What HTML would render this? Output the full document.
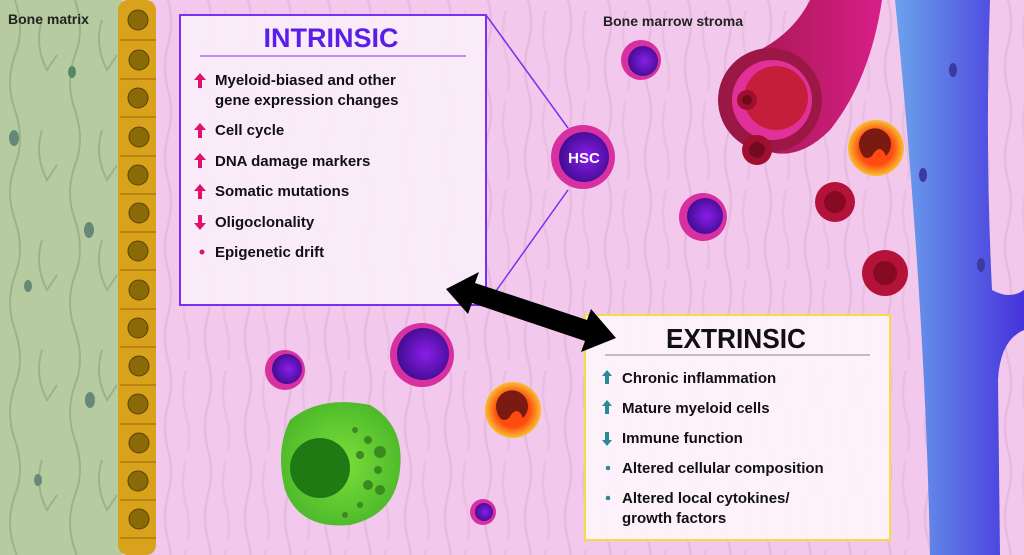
<!DOCTYPE html>
<html><head><meta charset="utf-8"><style>
html,body{margin:0;padding:0;width:1024px;height:555px;overflow:hidden;background:#f2c9ec}
svg{display:block}
text{font-family:"Liberation Sans",Arial,sans-serif;font-weight:bold}
</style></head><body>
<svg width="1024" height="555" viewBox="0 0 1024 555" xmlns="http://www.w3.org/2000/svg">
<defs>
<pattern id="fib" width="40" height="90" patternUnits="userSpaceOnUse">
<path d="M8 0 q6 22 0 45 q-6 22 0 45" stroke="#dcaed3" stroke-width="2.5" fill="none" opacity="0.5"/>
<path d="M26 10 q-6 22 0 45 q6 22 0 45" stroke="#dcaed3" stroke-width="2.5" fill="none" opacity="0.4"/>
</pattern>
<pattern id="gfib" width="60" height="110" patternUnits="userSpaceOnUse">
<path d="M15 0 q10 30 0 55 q-10 28 0 55" stroke="#9cb28b" stroke-width="2" fill="none"/>
<path d="M42 20 q-8 25 5 50 l10 -15" stroke="#9cb28b" stroke-width="2" fill="none"/>
</pattern>
<radialGradient id="pc" cx="0.55" cy="0.5" r="0.6"><stop offset="0" stop-color="#8a1ee8"/><stop offset="1" stop-color="#3b0a8a"/></radialGradient>
<radialGradient id="gr" cx="0.5" cy="0.5" r="0.55"><stop offset="0" stop-color="#7be03a"/><stop offset="1" stop-color="#4cb82a"/></radialGradient>
<radialGradient id="ne" cx="0.5" cy="0.5" r="0.5"><stop offset="0.6" stop-color="#ff4a10"/><stop offset="1" stop-color="#f8c030"/></radialGradient>
<linearGradient id="vein" x1="0" x2="1"><stop offset="0" stop-color="#6ca2ec"/><stop offset="1" stop-color="#4632dc"/></linearGradient>
<linearGradient id="art" x1="0" x2="1"><stop offset="0" stop-color="#9b1846"/><stop offset="1" stop-color="#d81e88"/></linearGradient>
</defs>
<rect width="1024" height="555" fill="#f2c9ec"/>
<rect x="150" width="874" height="555" fill="url(#fib)"/>
<rect width="122" height="555" fill="#b6cb9f"/>
<rect width="122" height="555" fill="url(#gfib)"/>
<ellipse cx="72" cy="72" rx="4" ry="6" fill="#586"/>
<ellipse cx="14" cy="138" rx="5" ry="8" fill="#687"/>
<ellipse cx="89" cy="230" rx="5" ry="8" fill="#687"/>
<ellipse cx="28" cy="286" rx="4" ry="6" fill="#687"/>
<ellipse cx="90" cy="400" rx="5" ry="8" fill="#687"/>
<ellipse cx="38" cy="480" rx="4" ry="6" fill="#687"/>
<text x="8" y="24" font-size="14" fill="#222">Bone matrix</text>
<rect x="118" y="0" width="38" height="555" rx="10" fill="#d9a21c"/>
<g fill="#8a6a08" stroke="#5a4400" stroke-width="1">
<circle cx="138" cy="20" r="10"/><circle cx="139" cy="60" r="10"/><circle cx="138" cy="98" r="10"/><circle cx="139" cy="137" r="10"/><circle cx="138" cy="175" r="10"/><circle cx="139" cy="213" r="10"/><circle cx="138" cy="251" r="10"/><circle cx="139" cy="290" r="10"/><circle cx="138" cy="328" r="10"/><circle cx="139" cy="366" r="10"/><circle cx="138" cy="404" r="10"/><circle cx="139" cy="443" r="10"/><circle cx="138" cy="481" r="10"/><circle cx="139" cy="519" r="10"/>
</g>
<g stroke="#b07a10" stroke-width="1.5">
<line x1="120" y1="40" x2="156" y2="40"/><line x1="120" y1="79" x2="156" y2="79"/><line x1="120" y1="117" x2="156" y2="117"/><line x1="120" y1="156" x2="156" y2="156"/><line x1="120" y1="194" x2="156" y2="194"/><line x1="120" y1="232" x2="156" y2="232"/><line x1="120" y1="270" x2="156" y2="270"/><line x1="120" y1="309" x2="156" y2="309"/><line x1="120" y1="347" x2="156" y2="347"/><line x1="120" y1="385" x2="156" y2="385"/><line x1="120" y1="424" x2="156" y2="424"/><line x1="120" y1="462" x2="156" y2="462"/><line x1="120" y1="500" x2="156" y2="500"/><line x1="120" y1="538" x2="156" y2="538"/>
</g>
<path d="M895 0 L990 0 Q985 150 992 290 Q1010 300 1024 290 L1024 330 Q1000 340 998 380 L1000 555 L930 555 Q925 300 895 0Z" fill="url(#vein)"/>
<ellipse cx="953" cy="70" rx="4" ry="7" fill="#3a3aa0"/><ellipse cx="923" cy="175" rx="4" ry="7" fill="#3a3aa0"/><ellipse cx="981" cy="265" rx="4" ry="7" fill="#3a3aa0"/>
<path d="M810 0 L882 0 Q870 80 830 130 Q800 160 770 152 A52 52 0 0 1 742 58 Q790 40 810 0Z" fill="url(#art)"/>
<circle cx="770" cy="100" r="52" fill="#9b1846"/>
<circle cx="772" cy="100" r="40" fill="#e2309a"/>
<circle cx="776" cy="98" r="32" fill="#c41e3a"/>
<circle cx="747" cy="100" r="10" fill="#a0102e"/><circle cx="747" cy="100" r="5" fill="#6e0a1c"/>
<circle cx="757" cy="150" r="15" fill="#a0102e"/><circle cx="757" cy="150" r="8" fill="#740a20"/>
<circle cx="835" cy="202" r="20" fill="#b5123a"/><circle cx="835" cy="202" r="11" fill="#860a24"/>
<circle cx="885" cy="273" r="23" fill="#b5123a"/><circle cx="885" cy="273" r="12" fill="#860a24"/>
<circle cx="876" cy="148" r="28" fill="url(#ne)"/><path d="M860 150 a16 16 0 1 1 26 6 q-6 -14 -14 0 q-8 6 -12 -6z" fill="#7a1a10"/>
<circle cx="513" cy="410" r="28" fill="url(#ne)"/><path d="M497 412 a16 16 0 1 1 26 6 q-6 -14 -14 0 q-8 6 -12 -6z" fill="#7a1a10"/>
<circle cx="641" cy="60" r="20" fill="#d830a0"/><circle cx="643" cy="61" r="15" fill="url(#pc)"/>
<circle cx="703" cy="217" r="24" fill="#d830a0"/><circle cx="705" cy="216" r="18" fill="url(#pc)"/>
<circle cx="285" cy="370" r="20" fill="#d830a0"/><circle cx="287" cy="369" r="15" fill="url(#pc)"/>
<circle cx="422" cy="355" r="32" fill="#d830a0"/><circle cx="423" cy="354" r="26" fill="url(#pc)"/>
<circle cx="483" cy="512" r="13" fill="#d830a0"/><circle cx="484" cy="512" r="9" fill="url(#pc)"/>
<path d="M290 420 Q320 395 370 405 Q405 425 400 470 Q395 515 350 525 Q300 530 285 490 Q275 450 290 420Z" fill="url(#gr)"/>
<circle cx="320" cy="468" r="30" fill="#1f7a14"/>
<g fill="#3a8a20"><circle cx="355" cy="430" r="3"/><circle cx="368" cy="440" r="4"/><circle cx="380" cy="452" r="6"/><circle cx="360" cy="455" r="4"/><circle cx="378" cy="470" r="4"/><circle cx="368" cy="485" r="5"/><circle cx="380" cy="490" r="5"/><circle cx="360" cy="505" r="3"/><circle cx="345" cy="515" r="3"/></g>
<line x1="486" y1="15" x2="568" y2="128" stroke="#7b2ff0" stroke-width="1.5"/>
<line x1="486" y1="305" x2="568" y2="190" stroke="#7b2ff0" stroke-width="1.5"/>
<circle cx="583" cy="157" r="32" fill="#d830a0"/><circle cx="584" cy="157" r="25" fill="url(#pc)"/>
<text x="584" y="163" font-size="15" fill="#fff" text-anchor="middle">HSC</text>
<text x="603" y="26" font-size="14" fill="#222">Bone marrow stroma</text>
<rect x="180" y="15" width="306" height="290" fill="#fbeefa" fill-opacity="0.93" stroke="#7b2ff0" stroke-width="2"/>
<text x="331" y="47" font-size="27" fill="#5a1ee8" text-anchor="middle">INTRINSIC</text>
<line x1="200" y1="56" x2="466" y2="56" stroke="#7b2ff0" stroke-width="1"/>
<g font-size="15" fill="#111">
<text x="215" y="85">Myeloid-biased and other</text><text x="215" y="105">gene expression changes</text>
<text x="215" y="135">Cell cycle</text><text x="215" y="166">DNA damage markers</text>
<text x="215" y="196">Somatic mutations</text><text x="215" y="227">Oligoclonality</text>
<text x="215" y="257">Epigenetic drift</text></g>
<g fill="#e0106e">
<path d="M200 73 l-6 7 h4 v8 h4 v-8 h4z"/><path d="M200 123 l-6 7 h4 v8 h4 v-8 h4z"/><path d="M200 153 l-6 7 h4 v8 h4 v-8 h4z"/><path d="M200 184 l-6 7 h4 v8 h4 v-8 h4z"/>
<path d="M200 230 l-6 -7 h4 v-8 h4 v8 h4z"/><circle cx="202" cy="252" r="2.5"/></g>
<rect x="585" y="315" width="305" height="225" fill="#fdf3fb" fill-opacity="0.95" stroke="#f5dd40" stroke-width="2"/>
<text x="736" y="348" font-size="28" fill="#111" text-anchor="middle" textLength="140" lengthAdjust="spacingAndGlyphs">EXTRINSIC</text>
<line x1="605" y1="355" x2="870" y2="355" stroke="#888" stroke-width="1"/>
<g font-size="15" fill="#111">
<text x="622" y="383">Chronic inflammation</text><text x="622" y="413">Mature myeloid cells</text>
<text x="622" y="443">Immune function</text><text x="622" y="473">Altered cellular composition</text>
<text x="622" y="503">Altered local cytokines/</text><text x="622" y="523">growth factors</text></g>
<g fill="#2a8a9a">
<path d="M607 370 l-5 6 h3 v8 h4 v-8 h3z"/><path d="M607 400 l-5 6 h3 v8 h4 v-8 h3z"/><path d="M607 446 l-5 -6 h3 v-8 h4 v8 h3z"/>
<circle cx="608" cy="468" r="2.3"/><circle cx="608" cy="498" r="2.3"/></g>
<path d="M446 289 L479 272 L475 283 L587 320 L591 309 L616 338 L581 352 L585 341 L472 303 L468 314Z" fill="#000"/>
</svg>
</body></html>
